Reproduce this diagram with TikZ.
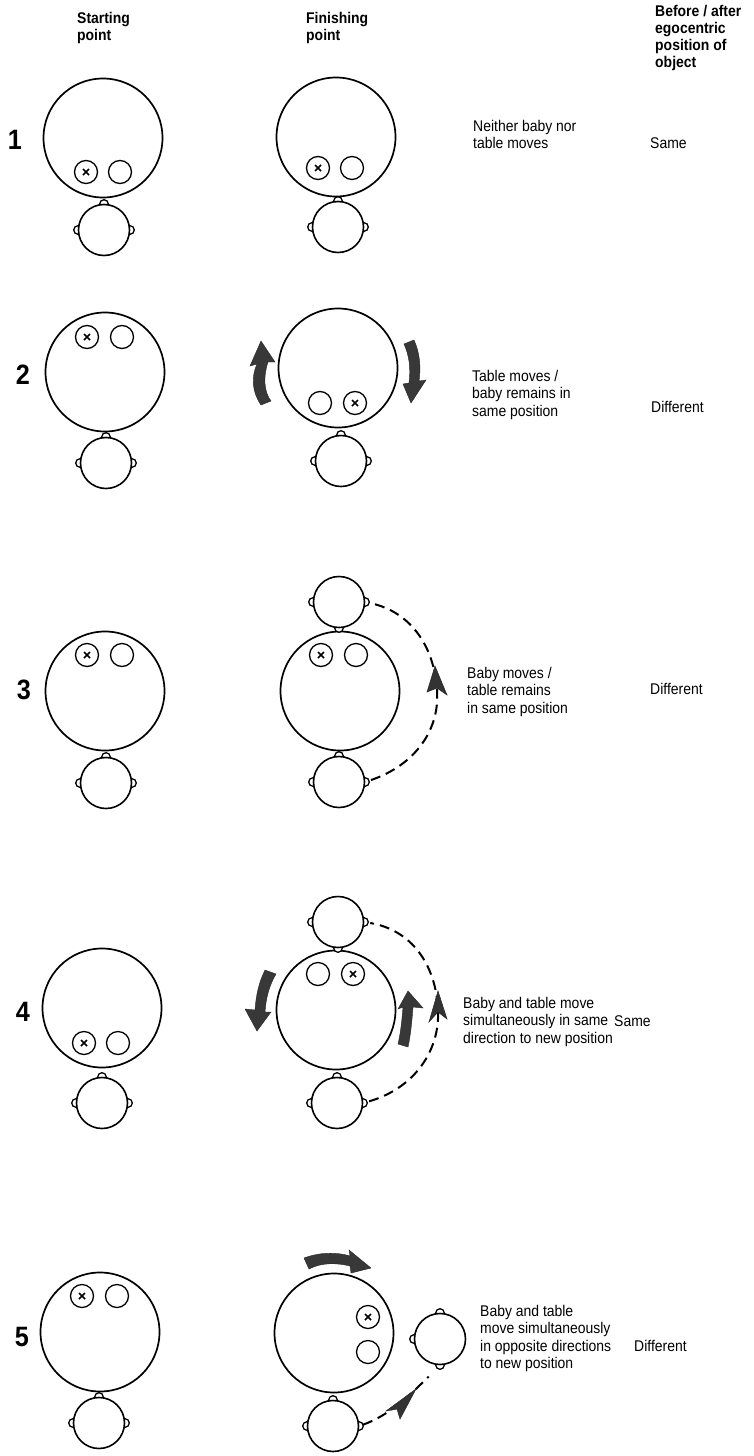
\documentclass[tikz,border=0pt]{standalone}
\usepackage{fontspec}
\setmainfont[FakeStretch=0.9]{Liberation Sans}
\usetikzlibrary{arrows.meta}
\tikzset{
  tablec/.style={circle,draw,line width=1.7pt,minimum size=119pt,inner sep=0pt},
  obj/.style={circle,draw,line width=1.3pt,minimum size=23pt,inner sep=0pt},
  babyh/.style={circle,draw,fill=white,line width=1.6pt,minimum size=51pt,inner sep=0pt},
  bump/.style={draw,fill=white,line width=1.3pt},
  xmark/.style={line width=1.6pt},
  turnarrow/.style={fill=black!78,draw=black!85,line width=0.4pt},
  movearc/.style={line width=2pt,dash pattern=on 10pt off 6pt},
  movehead/.style={fill=black!80,draw=black!85,line width=0.5pt},
  txt/.style={anchor=north west,inner sep=0pt,align=left,font=\fontsize{15.5}{17.5}\selectfont},
  stxt/.style={anchor=west,inner sep=0pt,font=\fontsize{15.5}{17.5}\selectfont},
  hdr/.style={anchor=north west,inner sep=0pt,align=left,font=\bfseries\fontsize{15.5}{17}\selectfont},
  rowno/.style={inner sep=0pt,font=\bfseries\fontsize{28}{30}\selectfont}
}
\newcommand{\objplain}[2]{\node[obj] (#1) at (#2) {};}
\newcommand{\objcross}[2]{\node[obj] (#1) at (#2) {};
  \draw[xmark] ([shift={(-3pt,-3pt)}]#1.center) -- ([shift={(3pt,3pt)}]#1.center)
               ([shift={(-3pt,3pt)}]#1.center) -- ([shift={(3pt,-3pt)}]#1.center);}
\newcommand{\babyhead}[4]{%
  \foreach \a in {#4} {\draw[bump] ([shift={(#2,#3)}]\a:26pt) circle[radius=4.3pt];}
  \node[babyh] (#1) at (#2,#3) {};}
\begin{document}
\begin{tikzpicture}[x=1pt,y=-1pt]
\fill[white] (0,0) rectangle (754,1456);
\useasboundingbox (0,0) rectangle (754,1456);

% header
\node[hdr] (hs) at (77,12) {Starting\\point};
\node[hdr] (hf) at (306,12) {Finishing\\point};
\node[hdr] (hb) at (655,5) {Before / after\\egocentric\\position of\\object};

% ---------- row 1
\node[rowno] (n1) at (15,140) {1};
\node[tablec] (t1s) at (103,138) {};
\objcross{o1sa}{86,172}
\objplain{o1sb}{120,172}
\babyhead{h1s}{104}{230}{90,0,180}
\node[tablec] (t1f) at (336,137) {};
\objcross{o1fa}{318,168}
\objplain{o1fb}{352,168}
\babyhead{h1f}{338}{227}{90,0,180}
\node[txt] (d1) at (473,120) {Neither baby nor\\table moves};
\node[stxt] (r1) at (650,143) {Same};

% ---------- row 2
\node[rowno] (n2) at (23,375) {2};
\node[tablec] (t2s) at (105,372) {};
\objcross{o2sa}{87,337}
\objplain{o2sb}{122,337}
\babyhead{h2s}{106}{463}{90,0,180}
\node[tablec] (t2f) at (338,368) {};
\objplain{o2fa}{320,403}
\objcross{o2fb}{355,403}
\babyhead{h2f}{341}{461}{90,0,180}
\fill[turnarrow] (261,341) -- (275,362) -- (268,362) .. controls (263,377) and (264,392) .. (271,401)
  -- (261,405) .. controls (252,392) and (251,377) .. (257,364) -- (250,366) -- cycle;
\fill[turnarrow] (411,403) -- (403,384) -- (409,383) .. controls (411,368) and (409,355) .. (404,344)
  -- (414,340) .. controls (420,353) and (421,368) .. (419,381) -- (426,380) -- cycle;
\node[txt] (d2) at (472,370) {Table moves /\\baby remains in\\same position};
\node[stxt] (r2) at (651,407) {Different};

% ---------- row 3
\node[rowno] (n3) at (24,690) {3};
\node[tablec] (t3s) at (105,691) {};
\objcross{o3sa}{87,655}
\objplain{o3sb}{122,655}
\babyhead{h3s}{106}{783}{90,0,180}
\node[tablec] (t3f) at (340,691) {};
\objcross{o3fa}{321,655}
\objplain{o3fb}{356,655}
\babyhead{h3ft}{339}{602}{270,0,180}
\babyhead{h3fb}{339}{782}{90,0,180}
\draw[movearc,shorten <=6pt,shorten >=6pt] (h3fb.east) .. controls (415,765) and (440,730) .. (437,690)
  .. controls (434,645) and (410,612) .. (h3ft.east);
\fill[movehead] (435,666) -- (447,695) -- (437,688) -- (427,692) -- cycle;
\node[txt] (d3) at (467,667) {Baby moves /\\table remains\\in same position};
\node[stxt] (r3) at (650,689) {Different};

% ---------- row 4
\node[rowno] (n4) at (23,1012) {4};
\node[tablec] (t4s) at (102,1008) {};
\objcross{o4sa}{84,1043}
\objplain{o4sb}{118,1043}
\babyhead{h4s}{102}{1103}{90,0,180}
\node[tablec] (t4f) at (336,1010) {};
\objplain{o4fa}{318,974}
\objcross{o4fb}{353,974}
\babyhead{h4ft}{338}{922}{270,0,180}
\babyhead{h4fb}{337}{1103}{90,0,180}
\draw[movearc,shorten <=6pt,shorten >=6pt] (h4fb.east) .. controls (415,1088) and (440,1050) .. (438,1010)
  .. controls (436,965) and (412,930) .. (h4ft.east);
\fill[movehead] (438,991) -- (447,1019) -- (438,1012) -- (429,1022) -- cycle;
\fill[turnarrow] (257,1031) -- (245,1009) -- (255,1010) .. controls (256,995) and (259,982) .. (265,970)
  -- (276,974) .. controls (269,986) and (266,998) .. (265,1012) -- (271,1012) -- cycle;
\fill[turnarrow] (408,991) -- (423,1008) -- (413,1007) .. controls (412,1020) and (411,1033) .. (408,1047)
  -- (398,1044) .. controls (401,1031) and (402,1019) .. (403,1007) -- (398,1009) -- cycle;
\node[txt] (d4) at (463,997) {Baby and table move\\simultaneously in same\\direction to new position};
\node[stxt] (r4) at (614,1021) {Same};

% ---------- row 5
\node[rowno] (n5) at (22,1337) {5};
\node[tablec] (t5s) at (100,1332) {};
\objcross{o5sa}{82,1296}
\objplain{o5sb}{117,1296}
\babyhead{h5s}{99}{1423}{90,0,180}
\node[tablec] (t5f) at (334,1333) {};
\objcross{o5fa}{368,1317}
\objplain{o5fb}{368,1352}
\babyhead{h5fr}{440}{1339}{180,90,270}
\babyhead{h5fb}{333}{1426}{90,0,180}
\draw[movearc,shorten <=4pt,shorten >=16pt] (h5fb.east) .. controls (390,1415) and (410,1395) .. (h5fr.south);
\fill[movehead] (416,1389) -- (400,1419) -- (397,1409) -- (386,1411) -- cycle;
\fill[turnarrow] (371,1268) -- (351,1273) -- (350,1266) .. controls (338,1263) and (322,1262) .. (309,1269)
  -- (304,1258) .. controls (320,1252) and (337,1252) .. (350,1256) -- (349,1250) -- cycle;
\node[txt] (d5) at (480,1305) {Baby and table\\move simultaneously\\in opposite directions\\to new position};
\node[stxt] (r5) at (634,1346) {Different};
\end{tikzpicture}
\end{document}
